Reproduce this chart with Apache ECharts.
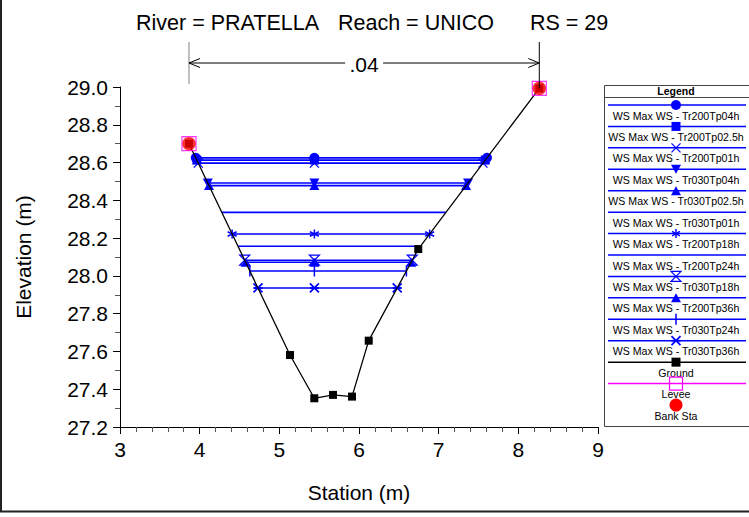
<!DOCTYPE html>
<html><head><meta charset="utf-8">
<script src="https://cdn.jsdelivr.net/npm/echarts@6/dist/echarts.min.js"></script>
<style>html,body{margin:0;padding:0;background:#fff}#c{width:749px;height:517px}</style>
</head><body><div id="c"></div>
<script>
// ---------------- data ----------------
const titleRiver = 'River = PRATELLA';
const titleReach = 'Reach = UNICO';
const titleRS = 'RS = 29';
const xName = 'Station (m)';
const yName = 'Elevation (m)';
const xRange = [3, 9];
const yRange = [27.2, 29.0];
const groundSta  = [3.866, 5.134, 5.439, 5.674, 5.912, 6.122, 6.744, 8.263];
const groundElev = [28.700, 27.581, 27.352, 27.370, 27.361, 27.657, 28.142, 28.993];
const bankSta  = [3.866, 8.263];
const bankElev = [28.700, 28.993];
const leveeSta  = [3.866, 8.263];
const leveeElev = [28.700, 28.993];
const manningN = ['.04'];
const wsNames = [
  'WS Max WS - Tr200Tp04h', 'WS Max WS - Tr200Tp02.5h', 'WS Max WS - Tr200Tp01h',
  'WS Max WS - Tr030Tp04h', 'WS Max WS - Tr030Tp02.5h', 'WS Max WS - Tr030Tp01h',
  'WS Max WS - Tr200Tp18h', 'WS Max WS - Tr200Tp24h', 'WS Max WS - Tr030Tp18h',
  'WS Max WS - Tr200Tp36h', 'WS Max WS - Tr030Tp24h', 'WS Max WS - Tr030Tp36h'
];
const wsElev = [28.625, 28.613, 28.597, 28.492, 28.478, 28.336, 28.222, 28.157, 28.083, 28.072, 28.026, 27.936];
const wsMarkerSta = [5.44];
const legendTitle = 'Legend';
const groundName = 'Ground', leveeName = 'Levee', bankName = 'Bank Sta';

// ---------------- styles ----------------
const wsSymbols = ['circle','square','x','down','up','none','ast','none','hour','up','bar','star'];
const FONT = '"Liberation Sans", Arial, sans-serif';
const BLUE = '#0000ff';
const symDefs = {
  circle:{symbol:'circle', size:10},
  square:{symbol:'rect', size:9},
  x:{symbol:'path://M0,0L10,10M10,0L0,10', size:9, stroke:1.3},
  down:{symbol:'path://M0,0L10,0L5,9Z', size:[10,9]},
  up:{symbol:'path://M5,0L10,9L0,9Z', size:[10,9]},
  ast:{symbol:'path://M5,0L5,10M0.7,2.5L9.3,7.5M0.7,7.5L9.3,2.5', size:9, stroke:1.5},
  hour:{symbol:'path://M0,0L10,0L0,10L10,10Z', size:10, stroke:1.2},
  bar:{symbol:'rect', size:[1.5,11]},
  star:{symbol:'path://M0,0L10,10M10,0L0,10M0,5L10,5', size:9, stroke:1.8}
};

function crossLeft(e){
  for (let i=0;i<groundSta.length-1;i++){
    const e0=groundElev[i], e1=groundElev[i+1];
    if ((e0-e)*(e1-e)<=0 && e0!==e1) return groundSta[i]+(e-e0)/(e1-e0)*(groundSta[i+1]-groundSta[i]);
  }
}
function crossRight(e){
  for (let i=groundSta.length-1;i>0;i--){
    const e0=groundElev[i], e1=groundElev[i-1];
    if ((e0-e)*(e1-e)<=0 && e0!==e1) return groundSta[i]+(e-e0)/(e1-e0)*(groundSta[i-1]-groundSta[i]);
  }
}

const series = [];
wsNames.forEach((nm, i) => {
  const e = wsElev[i];
  const d = symDefs[wsSymbols[i]];
  series.push({
    type:'line', name:nm, z:3, silent:true,
    data:[[crossLeft(e), e],[wsMarkerSta[0], e],[crossRight(e), e]],
    lineStyle:{color:BLUE, width:1.6},
    showSymbol: !!d, symbol: d ? d.symbol : 'none', symbolSize: d ? d.size : 0,
    itemStyle: d && d.stroke ? {color: wsSymbols[i]==='hour' ? 'rgba(0,0,0,0)' : BLUE, borderColor:BLUE, borderWidth:d.stroke}
                             : {color:BLUE, borderWidth:0}
  });
});
series.push({
  type:'line', name:groundName, z:4, silent:true,
  data: groundSta.map((x,i)=>[x, groundElev[i]]),
  lineStyle:{color:'#000', width:1.3},
  symbol:'rect', symbolSize:8, itemStyle:{color:'#000', borderWidth:0}
});
series.push({
  type:'scatter', name:leveeName, z:5, silent:true,
  data: leveeSta.map((x,i)=>[x, leveeElev[i]]),
  symbol:'rect', symbolSize:14,
  itemStyle:{color:'rgba(0,0,0,0)', borderColor:'#ff00ff', borderWidth:1.2}
});
series.push({
  type:'scatter', name:bankName, z:6, silent:true,
  data: bankSta.map((x,i)=>[x, bankElev[i]]),
  symbol:'circle', symbolSize:13.5, itemStyle:{color:'#ff0000'}
});
// Manning's n bracket, positioned from bank stations
series.push({
  type:'custom', coordinateSystem:'cartesian2d', clip:false, silent:true, z:7,
  data:[[bankSta[0], bankSta[1], yRange[1], bankElev[1]]],
  encode:{x:[0,1], y:[2,3]},
  renderItem(params, api){
    const pL = api.coord([api.value(0), api.value(2)]);
    const pR = api.coord([api.value(1), api.value(2)]);
    const bR = api.coord([api.value(1), api.value(3)]);
    const top = pL[1]-45, ay = pL[1]-24;
    const xl = pL[0], xr = pR[0], cx = (xl+xr)/2;
    const st = {stroke:'#000', lineWidth:1, fill:'none'};
    return {type:'group', children:[
      {type:'line', shape:{x1:xl,y1:top,x2:xl,y2:pL[1]-3}, style:{stroke:'#808080', lineWidth:1}},
      {type:'line', shape:{x1:xr,y1:top,x2:xr,y2:bR[1]}, style:st},
      {type:'line', shape:{x1:xl,y1:ay,x2:cx-19,y2:ay}, style:st},
      {type:'line', shape:{x1:cx+19,y1:ay,x2:xr,y2:ay}, style:st},
      {type:'polyline', shape:{points:[[xl+11,ay-4.5],[xl,ay],[xl+11,ay+4.5]]}, style:st},
      {type:'polyline', shape:{points:[[xr-11,ay-4.5],[xr,ay],[xr-11,ay+4.5]]}, style:st},
      {type:'text', style:{text:manningN[0], x:cx, y:ay+1, font:'21px '+FONT, textAlign:'center', align:'center',
        textVerticalAlign:'middle', verticalAlign:'middle', fill:'#000'}}
    ]};
  }
});

// ---------------- legend (graphic) ----------------
function ln(x1,y1,x2,y2,c,w){ return {type:'line', shape:{x1,y1,x2,y2}, style:{stroke:c, lineWidth:w}}; }
function legendSymbol(key, cx, cy, c){
  switch(key){
    case 'circle': return [{type:'circle', shape:{cx,cy,r:5}, style:{fill:c}}];
    case 'square': return [{type:'rect', shape:{x:cx-4.5,y:cy-4.5,width:9,height:9}, style:{fill:c}}];
    case 'x': return [ln(cx-4.5,cy-4.5,cx+4.5,cy+4.5,c,1.3), ln(cx+4.5,cy-4.5,cx-4.5,cy+4.5,c,1.3)];
    case 'down': return [{type:'polygon', shape:{points:[[cx-5,cy-4.5],[cx+5,cy-4.5],[cx,cy+4.5]]}, style:{fill:c}}];
    case 'up': return [{type:'polygon', shape:{points:[[cx-5,cy+4.5],[cx+5,cy+4.5],[cx,cy-4.5]]}, style:{fill:c}}];
    case 'ast': return [ln(cx,cy-4.5,cx,cy+4.5,c,1.5), ln(cx-3.9,cy-2.25,cx+3.9,cy+2.25,c,1.5), ln(cx-3.9,cy+2.25,cx+3.9,cy-2.25,c,1.5)];
    case 'hour': return [{type:'polygon', shape:{points:[[cx-5,cy-5],[cx+5,cy-5],[cx-5,cy+5],[cx+5,cy+5]]}, style:{fill:'none', stroke:c, lineWidth:1.2}}];
    case 'bar': return [{type:'rect', shape:{x:cx-0.75,y:cy-5.5,width:1.5,height:11}, style:{fill:c}}];
    case 'star': return [ln(cx-4.5,cy-4.5,cx+4.5,cy+4.5,c,1.8), ln(cx+4.5,cy-4.5,cx-4.5,cy+4.5,c,1.8), ln(cx-4.5,cy,cx+4.5,cy,c,1.8)];
    case 'levee': return [{type:'rect', shape:{x:cx-6.5,y:cy-6.5,width:13,height:13}, style:{fill:'none', stroke:c, lineWidth:1.2}}];
    case 'bank': return [{type:'circle', shape:{cx,cy,r:6.5}, style:{fill:c}}];
    default: return [];
  }
}
const LX0 = 604, LX1 = 760, LY0 = 85, LY1 = 426, LCX = 676;
const legendEls = [
  {type:'rect', shape:{x:LX0+0.5, y:LY0+0.5, width:LX1-LX0-1, height:LY1-LY0}, style:{fill:'#fff', stroke:'#444', lineWidth:1}},
  {type:'text', style:{text:legendTitle, x:LCX, y:91, font:'bold 10.5px '+FONT, textAlign:'center', align:'center', textVerticalAlign:'middle', verticalAlign:'middle', fill:'#000'}},
  ln(LX0, 97.5, LX1, 97.5, '#444', 1)
];
const entries = wsNames.map((n,i)=>({name:n, line:BLUE, sym:wsSymbols[i], color:BLUE}));
entries.push({name:groundName, line:'#000', sym:'square', color:'#000'});
entries.push({name:leveeName, line:'#ff00ff', sym:'levee', color:'#ff00ff'});
entries.push({name:bankName, line:null, sym:'bank', color:'#ff0000'});
entries.forEach((en, i) => {
  const y = 105 + i*21.43;
  if (en.line) legendEls.push(ln(LX0+4, y, 746, y, en.line, 1.5));
  legendSymbol(en.sym, LCX, y, en.color).forEach(s => legendEls.push(s));
  legendEls.push({type:'text', style:{text:en.name, x:LCX, y:y+10.5, font:'10.6px '+FONT, textAlign:'center', align:'center', textVerticalAlign:'middle', verticalAlign:'middle', fill:'#000'}});
});

const titleStyle = (t, x) => ({type:'text', style:{text:t, x, y:23, font:'21.5px '+FONT, textVerticalAlign:'middle', verticalAlign:'middle', fill:'#000'}});

const chart = echarts.init(document.getElementById('c'), null, {renderer:'svg', width:749, height:517});
chart.setOption({
  animation:false,
  backgroundColor:'#fff',
  grid:{left:120, right:151, top:87, bottom:90, containLabel:false},
  xAxis:{
    type:'value', min:xRange[0], max:xRange[1], interval:1,
    axisLine:{onZero:false, lineStyle:{color:'#000', width:1}},
    axisTick:{length:7, lineStyle:{color:'#000'}},
    minorTick:{show:true, splitNumber:5, length:5, lineStyle:{color:'#555'}},
    axisLabel:{fontSize:21, color:'#000', fontFamily:FONT, margin:12},
    splitLine:{show:false}, minorSplitLine:{show:false},
    name:xName, nameLocation:'middle', nameGap:55,
    nameTextStyle:{fontSize:21, color:'#000', fontFamily:FONT}
  },
  yAxis:{
    type:'value', min:yRange[0], max:yRange[1], interval:0.2,
    axisLine:{onZero:false, lineStyle:{color:'#000', width:1}},
    axisTick:{length:7, lineStyle:{color:'#000'}},
    minorTick:{show:true, splitNumber:2, length:5, lineStyle:{color:'#555'}},
    axisLabel:{fontSize:21, color:'#000', fontFamily:FONT, margin:12, formatter:v=>v.toFixed(1)},
    splitLine:{show:false}, minorSplitLine:{show:false},
    name:yName, nameLocation:'middle', nameGap:86, nameRotate:90,
    nameTextStyle:{fontSize:21, color:'#000', fontFamily:FONT}
  },
  series,
  graphic:[
    ln(1, 0, 1, 512, '#222', 2),
    ln(0, 511.5, 749, 511.5, '#222', 2),
    titleStyle(titleRiver, 136), titleStyle(titleReach, 338), titleStyle(titleRS, 530),
    {type:'group', children:legendEls}
  ]
});
</script></body></html>
